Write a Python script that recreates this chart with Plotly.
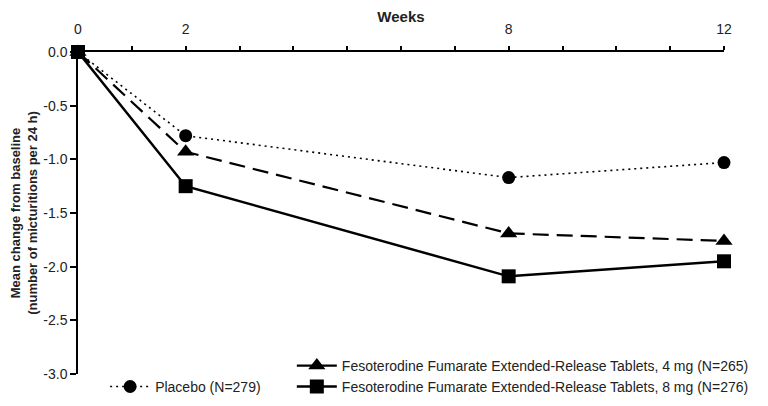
import plotly.graph_objects as go

weeks = [0, 2, 8, 12]
placebo = [0.0, -0.78, -1.17, -1.03]
fes_4mg = [0.0, -0.93, -1.69, -1.76]
fes_8mg = [0.0, -1.25, -2.09, -1.95]

names = [
    "Placebo (N=279)",
    "Fesoterodine Fumarate Extended-Release Tablets, 4 mg (N=265)",
    "Fesoterodine Fumarate Extended-Release Tablets, 8 mg (N=276)",
]

x_ticks = list(range(0, 13))
x_labels = [str(v) if v in (0, 2, 8, 12) else "" for v in x_ticks]
y_ticks = [0.0, -0.5, -1.0, -1.5, -2.0, -2.5, -3.0]
y_labels = ["0.0", "-0.5", "-1.0", "-1.5", "-2.0", "-2.5", "-3.0"]

FONT = "Liberation Sans, Arial, sans-serif"
TXT = "#222"

fig = go.Figure()
fig.add_trace(go.Scatter(
    x=weeks, y=placebo, name=names[0], mode="lines+markers",
    line=dict(color="black", width=1.6, dash="2px,4px"),
    marker=dict(symbol="circle", size=13, color="black"),
    cliponaxis=False, legend="legend", showlegend=True,
))
fig.add_trace(go.Scatter(
    x=weeks, y=fes_4mg, name=names[1], mode="lines+markers",
    line=dict(color="black", width=2.2, dash="16px,8px"),
    marker=dict(symbol="triangle-up", size=15, color="black"),
    cliponaxis=False, legend="legend2", showlegend=True,
))
fig.add_trace(go.Scatter(
    x=weeks, y=fes_8mg, name=names[2], mode="lines+markers",
    line=dict(color="black", width=2.5),
    marker=dict(symbol="square", size=14, color="black"),
    cliponaxis=False, legend="legend3", showlegend=True,
))

leg_common = dict(bgcolor="rgba(0,0,0,0)", font=dict(family=FONT, size=14, color=TXT),
                  xanchor="left", yanchor="middle", itemwidth=40)

fig.update_layout(
    width=760, height=398,
    showlegend=True,
    margin=dict(l=70, r=44, t=44, b=32, autoexpand=False),
    paper_bgcolor="white", plot_bgcolor="white",
    font=dict(family=FONT, size=14, color=TXT),
    xaxis=dict(
        side="top", range=[0, 12], tickvals=x_ticks, ticktext=x_labels,
        showline=True, linecolor="black", linewidth=1.5,
        ticks="outside", ticklen=4, tickwidth=1.5, tickcolor="black",
        ticklabelstandoff=7,
        showgrid=False, zeroline=False,
        tickfont=dict(family=FONT, size=14, color=TXT),
        title=dict(text="<b>Weeks</b>", font=dict(family=FONT, size=15, color=TXT), standoff=5),
    ),
    yaxis=dict(
        range=[-3, 0], tickvals=y_ticks, ticktext=y_labels,
        showline=True, linecolor="black", linewidth=1.5,
        ticks="outside", ticklen=6, tickwidth=1.5, tickcolor="black",
        showgrid=False, zeroline=False,
        tickfont=dict(family=FONT, size=14, color=TXT),
        title=dict(text="<b>Mean change from baseline</b><br><b>(number of micturitions per 24 h)</b>",
                   font=dict(family=FONT, size=13, color=TXT), standoff=13),
    ),
    legend=dict(x=0.042, y=-0.040, **leg_common),
    legend2=dict(x=0.331, y=0.025, **leg_common),
    legend3=dict(x=0.331, y=-0.040, **leg_common),
)

fig.write_html("out.html")
